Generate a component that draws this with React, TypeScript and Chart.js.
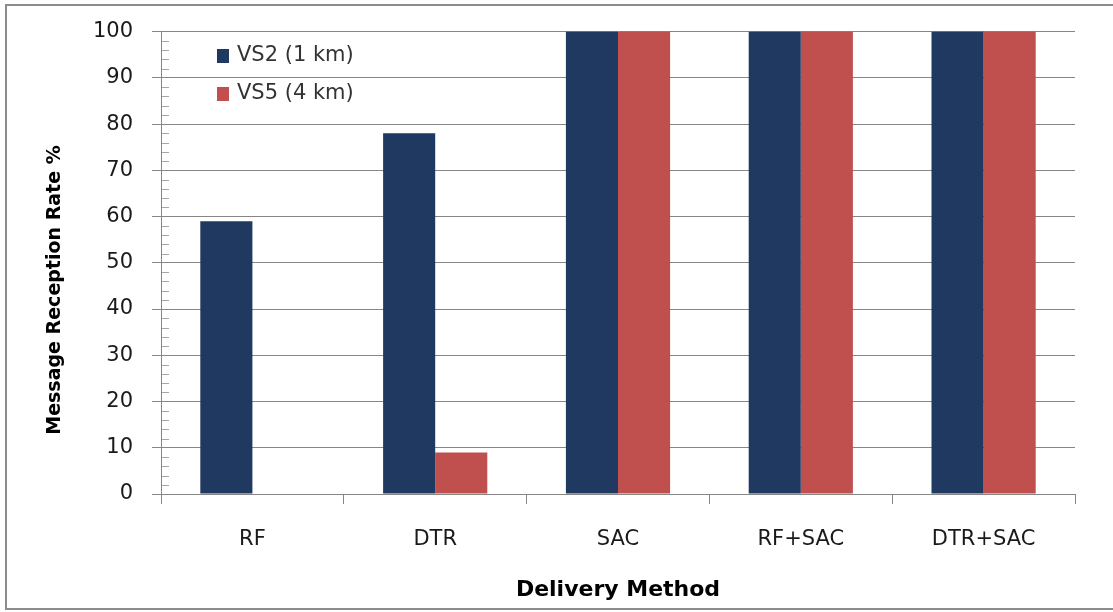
import React, { useEffect, useRef } from "react";
import { Chart, registerables } from "chart.js";

Chart.register(...registerables);

const categories = ["RF", "DTR", "SAC", "RF+SAC", "DTR+SAC"];
const vs2Values = [59, 78, 100, 100, 100];
const vs5Values = [0, 9, 100, 100, 100];
const seriesLabels = ["VS2 (1 km)", "VS5 (4 km)"];
const seriesColors = ["#1F3961", "#C0504D"];
const yTickMin = 0;
const yTickMax = 100;
const yTickStep = 10;
const yMinorStep = 2;
const xTitle = "Delivery Method";
const yTitle = "Message Reception Rate %";

const FONT = "'DejaVu Sans', sans-serif";

const decorPlugin = {
  id: "decor",
  beforeDraw(chart: any) {
    const ctx = chart.ctx;
    ctx.save();
    ctx.fillStyle = "#ffffff";
    ctx.fillRect(0, 0, chart.width, chart.height);
    ctx.restore();
  },
  afterDraw(chart: any) {
    const ctx = chart.ctx;
    const yScale = chart.scales.y;
    const area = chart.chartArea;
    ctx.save();
    // minor ticks on y axis (inside)
    ctx.strokeStyle = "#a6a6a6";
    ctx.lineWidth = 1;
    for (let v = yTickMin; v <= yTickMax; v += yMinorStep) {
      if (v % yTickStep === 0) continue;
      const py = Math.round(yScale.getPixelForValue(v)) + 0.5;
      ctx.beginPath();
      ctx.moveTo(area.left + 1, py);
      ctx.lineTo(area.left + 8, py);
      ctx.stroke();
    }
    // outer border (top, left, bottom only; right edge is cut off)
    ctx.strokeStyle = "#8c8c8c";
    ctx.lineWidth = 2;
    ctx.beginPath();
    ctx.moveTo(chart.width, 5);
    ctx.lineTo(6, 5);
    ctx.lineTo(6, 609);
    ctx.lineTo(chart.width, 609);
    ctx.stroke();
    // legend
    const legendX = 217;
    const legendY = [56, 94];
    chart.data.datasets.forEach((ds: any, i: number) => {
      ctx.fillStyle = ds.backgroundColor;
      ctx.fillRect(legendX, legendY[i] - 7, 12, 14);
      ctx.fillStyle = "#333333";
      ctx.font = `21px ${FONT}`;
      ctx.textAlign = "left";
      ctx.textBaseline = "middle";
      ctx.fillText(ds.label, legendX + 20, legendY[i]);
    });
    // x title
    ctx.fillStyle = "#000000";
    ctx.font = `bold 22px ${FONT}`;
    ctx.textAlign = "center";
    ctx.textBaseline = "middle";
    ctx.fillText(xTitle, 618, 590);
    // y title
    ctx.translate(55, 290);
    ctx.rotate(-Math.PI / 2);
    ctx.font = `bold 19px ${FONT}`;
    ctx.fillText(yTitle, 0, 0);
    ctx.restore();
  },
};

export default function App() {
  const canvasRef = useRef<HTMLCanvasElement | null>(null);

  useEffect(() => {
    document.body.style.margin = "0";
    const canvas = canvasRef.current;
    if (!canvas) return;
    const chart = new Chart(canvas, {
      type: "bar",
      data: {
        labels: categories,
        datasets: [
          {
            label: seriesLabels[0],
            data: vs2Values,
            backgroundColor: seriesColors[0],
            categoryPercentage: 0.57,
            barPercentage: 1.0,
          },
          {
            label: seriesLabels[1],
            data: vs5Values,
            backgroundColor: seriesColors[1],
            categoryPercentage: 0.57,
            barPercentage: 1.0,
          },
        ],
      },
      options: {
        responsive: false,
        animation: false,
        devicePixelRatio: 1,
        layout: { padding: { left: 0, top: 29, right: 38, bottom: 0 } },
        plugins: {
          legend: { display: false },
          tooltip: { enabled: false },
        },
        scales: {
          x: {
            afterFit(scale: any) {
              scale.height = 118;
            },
            grid: {
              offset: true,
              drawOnChartArea: false,
              drawTicks: true,
              tickLength: 10,
              color: "#868686",
            },
            border: { color: "#868686" },
            ticks: {
              color: "#1a1a1a",
              font: { family: FONT, size: 21 },
              padding: 23,
              maxRotation: 0,
            },
          },
          y: {
            min: yTickMin,
            max: yTickMax,
            afterFit(scale: any) {
              scale.width = 161;
            },
            grid: {
              color: "#868686",
              tickLength: 9,
            },
            border: { color: "#868686" },
            ticks: {
              stepSize: yTickStep,
              color: "#1a1a1a",
              font: { family: FONT, size: 21 },
              padding: 19,
            },
          },
        },
      },
      plugins: [decorPlugin],
    } as any);
    return () => chart.destroy();
  }, []);

  return (
    <div style={{ width: 1113, height: 612 }}>
      <canvas ref={canvasRef} width={1113} height={612} style={{ display: "block" }} />
    </div>
  );
}
